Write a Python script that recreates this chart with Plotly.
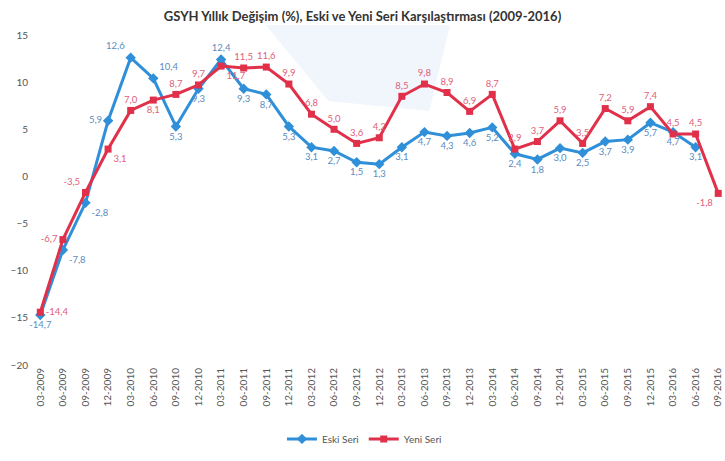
import plotly.graph_objects as go

categories = ["03-2009","06-2009","09-2009","12-2009",
              "03-2010","06-2010","09-2010","12-2010",
              "03-2011","06-2011","09-2011","12-2011",
              "03-2012","06-2012","09-2012","12-2012",
              "03-2013","06-2013","09-2013","12-2013",
              "03-2014","06-2014","09-2014","12-2014",
              "03-2015","06-2015","09-2015","12-2015",
              "03-2016","06-2016","09-2016"]

eski_seri = [-14.7, -7.8, -2.8, 5.9, 12.6, 10.4, 5.3, 9.3,
             12.4, 9.3, 8.7, 5.3, 3.1, 2.7, 1.5, 1.3,
             3.1, 4.7, 4.3, 4.6, 5.2, 2.4, 1.8, 3.0,
             2.5, 3.7, 3.9, 5.7, 4.7, 3.1, None]

yeni_seri = [-14.4, -6.7, -1.7, 2.9, 7.0, 8.1, 8.7, 9.7,
             11.7, 11.5, 11.6, 9.8, 6.6, 5.0, 3.5, 4.1,
             8.5, 9.8, 8.9, 6.9, 8.7, 2.9, 3.7, 5.9,
             3.5, 7.2, 5.9, 7.4, 4.5, 4.5, -1.8]

eski_labels = ["-14,7", "-7,8", "-2,8", "5,9", "12,6", "10,4", "5,3", "9,3",
               "12,4", "9,3", "8,7", "5,3", "3,1", "2,7", "1,5", "1,3",
               "3,1", "4,7", "4,3", "4,6", "5,2", "2,4", "1,8", "3,0",
               "2,5", "3,7", "3,9", "5,7", "4,7", "3,1", ""]

yeni_labels = ["-14,4", "-6,7", "-3,5", "3,1", "7,0", "8,1", "8,7", "9,7",
               "11,7", "11,5", "11,6", "9,9", "6,8", "5,0", "3,6", "4,2",
               "8,5", "9,8", "8,9", "6,9", "8,7", "2,9", "3,7", "5,9",
               "3,5", "7,2", "5,9", "7,4", "4,5", "4,5", "-1,8"]

eski_pos = ["bottom center", "bottom right", "bottom right", "middle left",
            "top left", "top right", "bottom center", "bottom center"] + ["bottom center"] * 23
eski_pos[8] = "top center"

yeni_pos = ["middle right", "middle left", "top left", "bottom right",
            "top center", "bottom center", "top center", "top center",
            "bottom right"] + ["top center"] * 22
yeni_pos[30] = "bottom left"

BLUE = "#2f8fd8"
RED = "#e0304a"

fig = go.Figure()
fig.add_trace(go.Scatter(
    x=categories, y=eski_seri, name="Eski Seri", mode="lines+markers+text",
    line=dict(color=BLUE, width=3), marker=dict(symbol="diamond", size=8, color=BLUE),
    text=eski_labels, textposition=eski_pos,
    textfont=dict(color="#5a8cc0", size=9.5, family="Liberation Sans Narrow, Lato"),
    cliponaxis=False,
))
fig.add_trace(go.Scatter(
    x=categories, y=yeni_seri, name="Yeni Seri", mode="lines+markers+text",
    line=dict(color=RED, width=3), marker=dict(symbol="square", size=7, color=RED),
    text=yeni_labels, textposition=yeni_pos,
    textfont=dict(color="#e0607a", size=9.5, family="Liberation Sans Narrow, Lato"),
    cliponaxis=False,
))

# faint watermark in the background
fig.add_shape(type="path", xref="paper", yref="paper",
              path="M 0.34 1.03 L 0.605 1.03 L 0.575 0.77 L 0.43 0.80 Z",
              fillcolor="rgba(185,215,240,0.22)", line=dict(width=0), layer="below")

fig.update_layout(
    width=725, height=461,
    margin=dict(l=29, r=0, t=35, b=96),
    paper_bgcolor="white", plot_bgcolor="white",
    title=dict(text="<b>GSYH Yıllık Değişim (%), Eski ve Yeni Seri Karşılaştırması (2009-2016)</b>",
               x=0.5, xanchor="center", y=0.975, yanchor="top",
               font=dict(family="Lato, Liberation Sans", size=13, color="#333333")),
    font=dict(family="Liberation Sans Narrow, Lato", color="#555555"),
    showlegend=True,
    legend=dict(orientation="h", x=0.482, xanchor="center", y=-0.224, yanchor="middle",
                font=dict(size=10, color="#555555"), itemwidth=30),
    xaxis=dict(type="category", range=[-0.5, 30.3], showgrid=False, showline=False,
               zeroline=False, tickangle=-90, tickfont=dict(size=10, color="#555555"),
               ticks=""),
    yaxis=dict(range=[-20, 15], dtick=5, showgrid=False, showline=False, zeroline=False,
               tickfont=dict(size=10, color="#555555"), ticks=""),
)

fig.write_html("out.html", config={"displayModeBar": False},
               post_script="document.body.style.margin='0';document.body.style.overflow='hidden';")
